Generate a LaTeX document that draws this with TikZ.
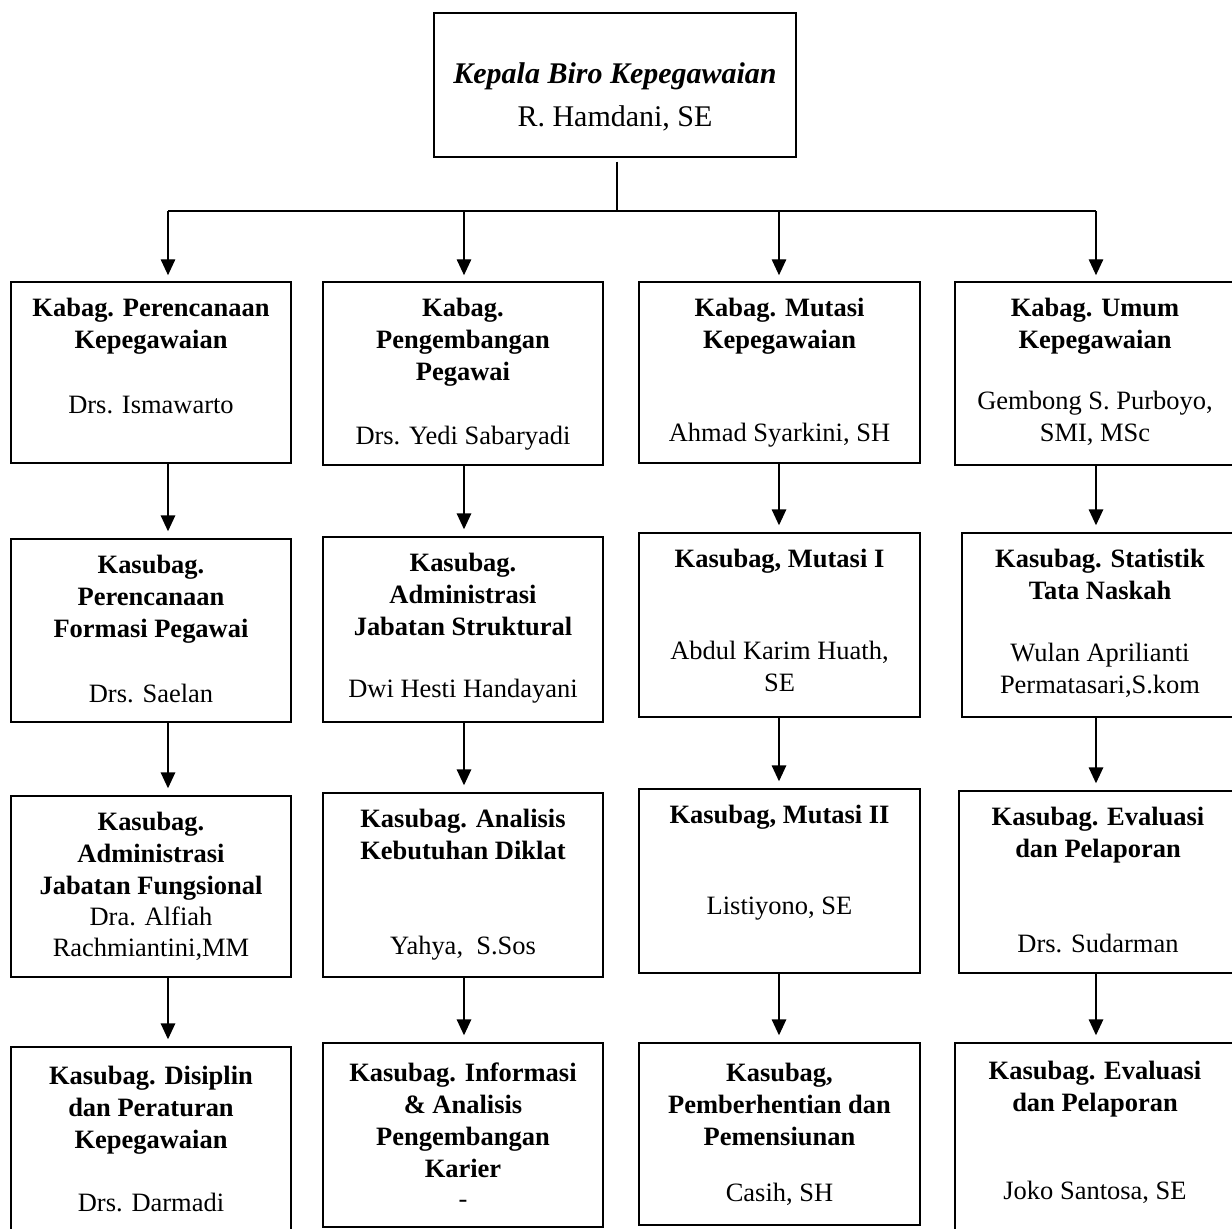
\documentclass[tikz,border=0pt]{standalone}
\usepackage{fontspec}
\setmainfont{Liberation Serif}
\usepackage{tikz}
\usetikzlibrary{arrows.meta}

\newdimen\pix
\pix=0.4268pt
% isi kotak: tinggi, lebar, teks (rata atas)
\newcommand{\isi}[4][16]{\parbox[c][#2\pix][t]{#3\pix}{\centering\vspace{#1\pix}#4}}

\begin{document}
\begin{tikzpicture}[x=0.015cm,y=-0.015cm,
    font=\fontsize{11.3}{13.66}\selectfont,
    kotak/.style={draw,line width=0.6pt,inner sep=0pt},
    garis/.style={line width=0.6pt},
    panah/.style={garis,-{Triangle[length=6.8pt,width=6.2pt]},shorten >=3pt}]
        \useasboundingbox (0,0) rectangle (1232,1228);

        \node[kotak] (kepala) at (615,85) {\isi[50]{144}{362}{\fontsize{12.8}{15.5}\selectfont\textbf{\textit{Kepala Biro Kepegawaian}}\\[6\pix] R. Hamdani, SE}};

        % baris 1
        \node[kotak] (b11) at (151,372.5) {\isi{181}{280}{\textbf{Kabag. Perencanaan\\Kepegawaian}\\[33\pix] Drs. Ismawarto}};
        \node[kotak] (b12) at (463,373.5) {\isi{183}{280}{\textbf{Kabag.\\Pengembangan\\Pegawai}\\[32\pix] Drs. Yedi Sabaryadi}};
        \node[kotak] (b13) at (779.5,372.5) {\isi{181}{281}{\textbf{Kabag. Mutasi\\Kepegawaian}\\[61\pix] Ahmad Syarkini, SH}};
        \node[kotak] (b14) at (1095,373.5) {\isi{183}{280}{\textbf{Kabag. Umum\\Kepegawaian}\\[29\pix] Gembong S. Purboyo,\\SMI, MSc}};

        % baris 2
        \node[kotak] (b21) at (151,630.5) {\isi{183}{280}{\textbf{Kasubag.\\Perencanaan\\Formasi Pegawai}\\[33\pix] Drs. Saelan}};
        \node[kotak] (b22) at (463,629.5) {\isi{185}{280}{\textbf{Kasubag.\\Administrasi\\Jabatan Struktural}\\[30\pix] Dwi Hesti Handayani}};
        \node[kotak] (b23) at (779.5,625) {\isi{184}{281}{\textbf{Kasubag, Mutasi I}\\[60\pix] Abdul Karim Huath,\\SE}};
        \node[kotak] (b24) at (1100,625) {\isi{184}{276}{\textbf{Kasubag. Statistik\\Tata Naskah}\\[30\pix] Wulan Aprilianti\\Permatasari,S.kom}};

        % baris 3
        \node[kotak] (b31) at (151,886.5) {\isi{181}{280}{\textbf{Kasubag.\\Administrasi\\Jabatan Fungsional}\\[-1\pix] Dra. Alfiah\\[-1\pix]Rachmiantini,MM}};
        \node[kotak] (b32) at (463,885) {\isi{184}{280}{\textbf{Kasubag. Analisis\\Kebutuhan Diklat}\\[63\pix] Yahya, \ S.Sos}};
        \node[kotak] (b33) at (779.5,881) {\isi{184}{281}{\textbf{Kasubag, Mutasi II}\\[59\pix] Listiyono, SE}};
        \node[kotak] (b34) at (1098,882) {\isi{182}{278}{\textbf{Kasubag. Evaluasi\\dan Pelaporan}\\[63\pix] Drs. Sudarman}};

        % baris 4
        \node[kotak] (b41) at (151,1140) {\isi[19]{186}{280}{\textbf{Kasubag. Disiplin\\dan Peraturan\\Kepegawaian}\\[31\pix] Drs. Darmadi}};
        \node[kotak] (b42) at (463,1135) {\isi[20]{184}{280}{\textbf{Kasubag. Informasi\\\& Analisis\\Pengembangan\\Karier}\\[-2\pix] -}};
        \node[kotak] (b43) at (779.5,1134) {\isi[20]{182}{281}{\textbf{Kasubag,\\Pemberhentian dan\\Pemensiunan}\\[24\pix] Casih, SH}};
        \node[kotak] (b44) at (1095,1138) {\isi[18]{190}{280}{\textbf{Kasubag. Evaluasi\\dan Pelaporan}\\[56\pix] Joko Santosa, SE}};

        % cabang dari kepala biro
        \coordinate (cabang) at (617,211);
        \coordinate (k1) at (168,211);
        \coordinate (k2) at (464,211);
        \coordinate (k3) at (779,211);
        \coordinate (k4) at (1096,211);
        \draw[garis,shorten <=1.7pt] (kepala.south -| cabang) -- (cabang);
        \draw[garis] (k1) -- (k4);
        \foreach \k in {1,2,3,4} {
          \draw[panah,shorten >=2.6pt] (k\k) -- (b1\k.north -| k\k);
        }

        % panah antar kotak
        \foreach \k in {1,2,3,4} {
          \draw[panah] (b1\k.south -| k\k) -- (b2\k.north -| k\k);
          \draw[panah] (b2\k.south -| k\k) -- (b3\k.north -| k\k);
          \draw[panah] (b3\k.south -| k\k) -- (b4\k.north -| k\k);
        }
      \end{tikzpicture}
\end{document}
